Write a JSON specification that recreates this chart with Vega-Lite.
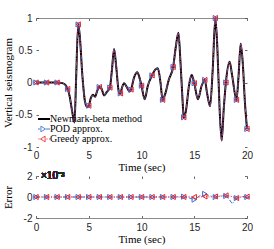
{
  "$schema": "https://vega.github.io/schema/vega-lite/v6.json",
  "padding": {"left": 1, "top": 13, "right": 0, "bottom": 0},
  "background": "white",
  "config": {
    "view": {"stroke": null},
    "axis": {
      "labelFont": "Liberation Sans", "labelFontSize": 10, "labelColor": "#262626",
      "titleFont": "Liberation Serif", "titleFontSize": 11, "titleFontWeight": "normal", "titleColor": "#000000",
      "grid": false, "domainColor": "#8c8c8c", "domainWidth": 1, "tickColor": "#444444", "tickWidth": 0.8, "tickSize": -2.5,
      "labelOverlap": false, "labelFlush": false, "labelBound": false
    },
    "legend": {
      "labelFont": "Liberation Serif", "labelFontSize": 10, "labelColor": "#000000"
    }
  },
  "datasets": {
    "signal": [
      {"t": 0, "v": 0}, {"t": 0.5, "v": 0}, {"t": 1, "v": 0}, {"t": 1.5, "v": 0}, {"t": 2, "v": 0},
      {"t": 2.5, "v": -0.01}, {"t": 2.8, "v": -0.04}, {"t": 3, "v": -0.1}, {"t": 3.2, "v": -0.22},
      {"t": 3.4, "v": -0.42}, {"t": 3.65, "v": -0.62}, {"t": 3.8, "v": 0.05}, {"t": 4, "v": 0.9},
      {"t": 4.15, "v": 0.72}, {"t": 4.4, "v": 0.1}, {"t": 4.65, "v": -0.3}, {"t": 4.85, "v": -0.38},
      {"t": 5, "v": -0.36}, {"t": 5.2, "v": -0.24}, {"t": 5.4, "v": -0.19}, {"t": 5.6, "v": -0.22},
      {"t": 5.8, "v": -0.13}, {"t": 6, "v": -0.07}, {"t": 6.2, "v": -0.09}, {"t": 6.45, "v": -0.2},
      {"t": 6.7, "v": -0.15}, {"t": 7, "v": -0.08}, {"t": 7.2, "v": 0.2}, {"t": 7.4, "v": 0.52},
      {"t": 7.6, "v": 0.25}, {"t": 7.85, "v": -0.14}, {"t": 8, "v": -0.17}, {"t": 8.15, "v": -0.08},
      {"t": 8.35, "v": -0.01}, {"t": 8.6, "v": -0.07}, {"t": 8.85, "v": -0.14}, {"t": 9, "v": -0.11},
      {"t": 9.3, "v": 0.08}, {"t": 9.6, "v": 0.16}, {"t": 9.8, "v": 0.08}, {"t": 10, "v": -0.05},
      {"t": 10.3, "v": -0.26}, {"t": 10.6, "v": -0.05}, {"t": 11, "v": 0.11}, {"t": 11.3, "v": 0.2},
      {"t": 11.55, "v": 0.22}, {"t": 11.8, "v": 0.0}, {"t": 12, "v": -0.27}, {"t": 12.2, "v": -0.2},
      {"t": 12.6, "v": 0.05}, {"t": 13, "v": 0.24}, {"t": 13.25, "v": 0.55}, {"t": 13.5, "v": 0.77},
      {"t": 13.7, "v": 0.3}, {"t": 13.9, "v": -0.3}, {"t": 14, "v": -0.54}, {"t": 14.2, "v": -0.45},
      {"t": 14.5, "v": -0.05}, {"t": 14.75, "v": 0.12}, {"t": 15, "v": -0.01}, {"t": 15.35, "v": -0.26},
      {"t": 15.7, "v": -0.05}, {"t": 16, "v": 0.04}, {"t": 16.2, "v": -0.15}, {"t": 16.5, "v": -0.37},
      {"t": 16.75, "v": 0.2}, {"t": 17, "v": 1.0}, {"t": 17.2, "v": 0.5}, {"t": 17.4, "v": -0.4},
      {"t": 17.6, "v": -0.9}, {"t": 17.8, "v": -0.4}, {"t": 18, "v": 0.0}, {"t": 18.35, "v": 0.32},
      {"t": 18.6, "v": 0.1}, {"t": 19, "v": -0.27}, {"t": 19.2, "v": 0.1}, {"t": 19.4, "v": 0.6},
      {"t": 19.6, "v": 0.3}, {"t": 19.8, "v": -0.3}, {"t": 20, "v": -0.72}
    ],
    "error": [
      {"t": 0, "pod": 0, "greedy": 0}, {"t": 0.5, "pod": 0, "greedy": 0}, {"t": 1, "pod": 0, "greedy": 0},
      {"t": 1.5, "pod": 0, "greedy": 0}, {"t": 2, "pod": 0, "greedy": 0}, {"t": 2.5, "pod": 0, "greedy": 0},
      {"t": 3, "pod": 0, "greedy": 0}, {"t": 3.5, "pod": 0, "greedy": 0}, {"t": 4, "pod": 0, "greedy": 0},
      {"t": 4.5, "pod": 0, "greedy": 0}, {"t": 5, "pod": 0, "greedy": 0}, {"t": 5.5, "pod": 0, "greedy": 0},
      {"t": 6, "pod": 0, "greedy": 0}, {"t": 6.5, "pod": 0, "greedy": 0}, {"t": 7, "pod": 0, "greedy": 0},
      {"t": 7.5, "pod": 0, "greedy": 0}, {"t": 8, "pod": 0, "greedy": 0}, {"t": 8.5, "pod": 0, "greedy": 0},
      {"t": 9, "pod": 0, "greedy": 0}, {"t": 9.5, "pod": 0, "greedy": 0}, {"t": 10, "pod": 0, "greedy": 0},
      {"t": 10.5, "pod": 0, "greedy": 0}, {"t": 11, "pod": 0, "greedy": 0}, {"t": 11.5, "pod": 0, "greedy": 0},
      {"t": 12, "pod": 0, "greedy": 0}, {"t": 12.5, "pod": 0, "greedy": 0}, {"t": 13, "pod": 0, "greedy": 0},
      {"t": 13.5, "pod": 0.00002, "greedy": 0}, {"t": 14, "pod": 0.00003, "greedy": 0},
      {"t": 14.5, "pod": -0.00008, "greedy": 0.00002}, {"t": 15, "pod": -0.00025, "greedy": 0},
      {"t": 15.5, "pod": 0.0001, "greedy": 0}, {"t": 16, "pod": 0.0003, "greedy": 0.00005},
      {"t": 16.5, "pod": 0.0001, "greedy": 0}, {"t": 17, "pod": 0, "greedy": 0.00005},
      {"t": 17.5, "pod": 0.0001, "greedy": 0.00008}, {"t": 18, "pod": 0.0001, "greedy": 0.00015},
      {"t": 18.3, "pod": -0.0002, "greedy": 0.0001}, {"t": 18.6, "pod": -0.00065, "greedy": 0.00003},
      {"t": 19, "pod": -0.0001, "greedy": -0.0001}, {"t": 19.5, "pod": 0.00005, "greedy": 0},
      {"t": 20, "pod": 0, "greedy": 0.00003}
    ]
  },
  "spacing": 29,
  "bounds": "flush",
  "vconcat": [
    {
      "width": 211,
      "height": 129,
      "data": {"name": "signal"},
      "layer": [
        {
          "mark": {"type": "line", "interpolate": "monotone", "strokeWidth": 2},
          "encoding": {
            "x": {"field": "t", "type": "quantitative", "scale": {"domain": [0, 20]},
              "axis": {"orient": "bottom", "values": [0, 5, 10, 15, 20], "domain": false, "ticks": false,
                "labelPadding": 3, "title": "Time (sec)", "titlePadding": 1, "labelExpr": "'' + datum.value"}},
            "y": {"field": "v", "type": "quantitative", "scale": {"domain": [-1, 1]},
              "axis": {"orient": "left", "values": [-1, -0.5, 0, 0.5, 1], "domain": false, "labelPadding": 6.5,
                "title": "Vertical seismogram", "titleX": -23, "labelExpr": "'' + datum.value"}},
            "color": {"datum": "Newmark-beta method", "type": "nominal",
              "scale": {"domain": ["Newmark-beta method", "POD approx.", "Greedy approx."], "range": ["#000000", "#3b6fd6", "#e8262f"]},
              "legend": {
                "title": null, "orient": "none", "legendX": 2, "legendY": 96, "padding": 0,
                "symbolSize": 196, "clipHeight": 10, "rowPadding": 0, "labelOffset": 2,
                "encode": {
                  "symbols": {
                    "update": {
                      "shape": {"signal": "datum.value == 'Newmark-beta method' ? 'M-1,0H1' : datum.value == 'POD approx.' ? 'M-1,0H-0.45M0.45,0H1M-0.3,-0.4L0.35,0L-0.3,0.4Z' : 'M-1,0H-0.85M-0.65,0H-0.5M0.5,0H0.65M0.85,0H1M0.3,-0.4L-0.35,0L0.3,0.4Z'"},
                      "strokeWidth": {"signal": "datum.value == 'Newmark-beta method' ? 2 : 1"},
                      "strokeDash": {"value": [1, 0]},
                      "fill": {"value": "transparent"},
                      "opacity": {"value": 1}
                    }
                  }
                }
              }
            }
          }
        },
        {
          "mark": {"type": "line", "interpolate": "monotone", "strokeWidth": 1, "strokeDash": [4, 2, 1, 2]},
          "encoding": {
            "x": {"field": "t", "type": "quantitative", "axis": null},
            "y": {"field": "v", "type": "quantitative", "axis": null},
            "color": {"datum": "POD approx.", "type": "nominal"}
          }
        },
        {
          "mark": {"type": "line", "interpolate": "monotone", "strokeWidth": 1, "strokeDash": [1, 1.5]},
          "encoding": {
            "x": {"field": "t", "type": "quantitative", "axis": null},
            "y": {"field": "v", "type": "quantitative", "axis": null},
            "color": {"datum": "Greedy approx.", "type": "nominal"}
          }
        },
        {
          "transform": [{"filter": "datum.t % 1 == 0"}],
          "mark": {"type": "point", "shape": "triangle-right", "filled": false, "size": 26, "strokeWidth": 1, "color": "#3b6fd6", "opacity": 1},
          "encoding": {
            "x": {"field": "t", "type": "quantitative",
              "axis": {"orient": "top", "values": [0, 5, 10, 15, 20], "labels": false, "title": null, "domain": true}},
            "y": {"field": "v", "type": "quantitative",
              "axis": {"orient": "right", "values": [-1, -0.5, 0, 0.5, 1], "labels": false, "title": null, "domain": false}}
          }
        },
        {
          "transform": [{"filter": "datum.t % 1 == 0"}],
          "mark": {"type": "point", "shape": "triangle-left", "filled": false, "size": 26, "strokeWidth": 1, "color": "#e8262f", "opacity": 1},
          "encoding": {
            "x": {"field": "t", "type": "quantitative", "axis": null},
            "y": {"field": "v", "type": "quantitative", "axis": null}
          }
        }
      ],
      "resolve": {"axis": {"x": "independent", "y": "independent"}}
    },
    {
      "width": 211,
      "height": 42,
      "data": {"name": "error"},
      "layer": [
        {
          "mark": {"type": "line", "strokeWidth": 1, "strokeDash": [4, 2, 1, 2], "color": "#3b6fd6"},
          "encoding": {
            "x": {"field": "t", "type": "quantitative", "scale": {"domain": [0, 20]},
              "axis": {"orient": "bottom", "values": [0, 5, 10, 15, 20], "domain": true, "labelPadding": 7,
                "title": "Time (sec)", "titlePadding": 1, "labelExpr": "'' + datum.value"}},
            "y": {"field": "pod", "type": "quantitative", "scale": {"domain": [-0.002, 0.002], "nice": false},
              "axis": {"orient": "left", "values": [-0.002, 0, 0.002], "domain": false, "labelPadding": 6.5,
                "title": "Error", "titleX": -23, "labelExpr": "datum.value > 0.001 ? '2' : datum.value < -0.001 ? '-2' : '0'"}}
          }
        },
        {
          "mark": {"type": "line", "strokeWidth": 1, "strokeDash": [1, 1.5], "color": "#e8262f"},
          "encoding": {
            "x": {"field": "t", "type": "quantitative", "axis": null},
            "y": {"field": "greedy", "type": "quantitative", "axis": null}
          }
        },
        {
          "transform": [{"filter": "datum.t % 1 == 0"}],
          "mark": {"type": "point", "shape": "triangle-right", "filled": false, "size": 26, "strokeWidth": 1, "color": "#3b6fd6", "opacity": 1},
          "encoding": {
            "x": {"field": "t", "type": "quantitative",
              "axis": {"orient": "top", "values": [0, 5, 10, 15, 20], "labels": false, "title": null, "domain": false}},
            "y": {"field": "pod", "type": "quantitative",
              "axis": {"orient": "right", "values": [-0.002, 0, 0.002], "labels": false, "title": null, "domain": false}}
          }
        },
        {
          "transform": [{"filter": "datum.t % 1 == 0"}],
          "mark": {"type": "point", "shape": "triangle-left", "filled": false, "size": 26, "strokeWidth": 1, "color": "#e8262f", "opacity": 1},
          "encoding": {
            "x": {"field": "t", "type": "quantitative", "axis": null},
            "y": {"field": "greedy", "type": "quantitative", "axis": null}
          }
        },
        {
          "mark": {"type": "text", "text": "×10⁻³", "align": "left", "baseline": "middle", "dx": 5, "font": "Liberation Sans", "fontSize": 10, "color": "#262626"},
          "encoding": {
            "x": {"datum": 0, "type": "quantitative", "axis": null},
            "y": {"datum": 0.002, "type": "quantitative", "axis": null}
          }
        }
      ],
      "resolve": {"axis": {"x": "independent", "y": "independent"}}
    }
  ]
}
